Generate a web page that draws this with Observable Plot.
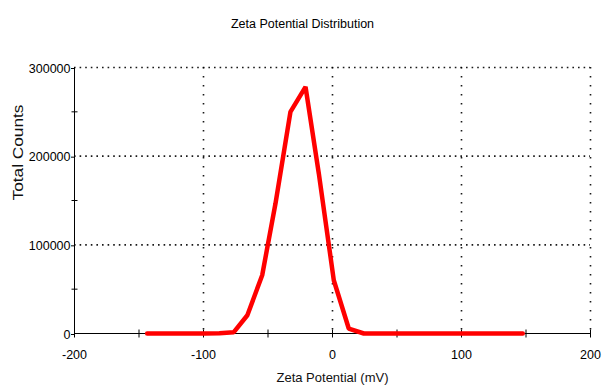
<!DOCTYPE html>
<html>
<head>
<meta charset="utf-8">
<script src="https://cdn.jsdelivr.net/npm/d3@7"></script>
<script src="https://cdn.jsdelivr.net/npm/@observablehq/plot@0.6"></script>
<style>
  html, body { margin: 0; padding: 0; background: #fff; }
  #chart svg { display: block; font-family: Arial, "Liberation Sans", sans-serif; }
</style>
</head>
<body>
<div id="chart"></div>
<script>
// Zeta potential distribution (mV vs total counts)
const zeta = [-143.7, -132.5, -121.3, -110.1, -98.9, -87.7, -76.5, -66, -54.5, -44.2, -32.6, -20.9, -10.6, 1, 12.6, 24.3, 35.5, 46.7, 57.9, 69.1, 80.3, 91.5, 102.7, 113.9, 125.1, 136.3, 147.5];
const counts = [0, 0, 0, 0, 0, 300, 1500, 20600, 65700, 146600, 249900, 278100, 180400, 60100, 5600, 0, 0, 0, 0, 0, 0, 0, 0, 0, 0, 0, 0];

const xMajor = [-200, -100, 0, 100, 200];
const xMinor = [-200, -150, -100, -50, 0, 50, 100, 150, 200];
const yMajor = [0, 100000, 200000, 300000];
const yMinor = [50000, 150000, 250000];
const xGrid = [-100, 0, 100, 200];
const yGrid = [100000, 200000, 300000];

const title = "Zeta Potential Distribution";
const xLabel = "Zeta Potential (mV)";
const yLabel = "Total Counts";

const data = zeta.map((z, i) => ({zeta: z, counts: counts[i]}));

// short tick glyphs drawn as custom symbols so they straddle the axis lines
const vTick = {draw(ctx) { ctx.moveTo(0, -4); ctx.lineTo(0, 4); }};
const hTick = {draw(ctx) { ctx.moveTo(-3, 0); ctx.lineTo(3, 0); }};

const chart = Plot.plot({
  width: 602,
  height: 387,
  marginLeft: 74,
  marginRight: 12,
  marginTop: 67,
  marginBottom: 54,
  style: {fontFamily: 'Arial, "Liberation Sans", sans-serif', fontSize: "12px", color: "#000"},
  x: {domain: [-200, 200]},
  y: {domain: [0, 300000]},
  marks: [
    Plot.gridX(xGrid, {stroke: "#000", strokeOpacity: 0.9, strokeWidth: 1.6, strokeDasharray: "1.6,7.4"}),
    Plot.gridY(yGrid, {stroke: "#000", strokeOpacity: 0.9, strokeWidth: 1.6, strokeDasharray: "1.6,4"}),
    Plot.ruleY([0], {stroke: "#000", strokeWidth: 1}),
    Plot.ruleX([-200], {stroke: "#000", strokeWidth: 1}),
    Plot.dot(xMinor, {x: d => d, y: 0, symbol: vTick, r: 3, stroke: "#000", strokeWidth: 1}),
    Plot.dot(yMinor, {x: -200, y: d => d, symbol: hTick, r: 3, stroke: "#000", strokeWidth: 1}),
    Plot.axisX(xMajor, {tickSize: 0, tickPadding: 17, label: null, tickFormat: d => String(d), fill: "#000", fontSize: 12.5}),
    Plot.axisY(yMajor, {tickSize: 3, tickPadding: 1, dy: 1, label: null, tickFormat: d => String(d), fill: "#000", fontSize: 12.5}),
    Plot.line(data, {x: "zeta", y: "counts", stroke: "#ff0000", strokeWidth: 4.5, strokeLinejoin: "miter"}),
    Plot.text([title], {text: d => d, frameAnchor: "top", dx: -30, dy: -48, fontSize: 12.5, fill: "#000"}),
    Plot.text([xLabel], {text: d => d, frameAnchor: "bottom", dy: 48, fontSize: 13, fill: "#111"}),
    Plot.text([yLabel], {text: d => d, frameAnchor: "left", dx: -56, rotate: -90, fontSize: 14, fill: "#111", className: "ylabel"})
  ]
});

// stretch the rotated axis title to its drawn length
const yl = chart.querySelector(".ylabel text");
if (yl) {
  yl.setAttribute("textLength", 96);
  yl.setAttribute("lengthAdjust", "spacingAndGlyphs");
}

document.getElementById("chart").appendChild(chart);
</script>
</body>
</html>
